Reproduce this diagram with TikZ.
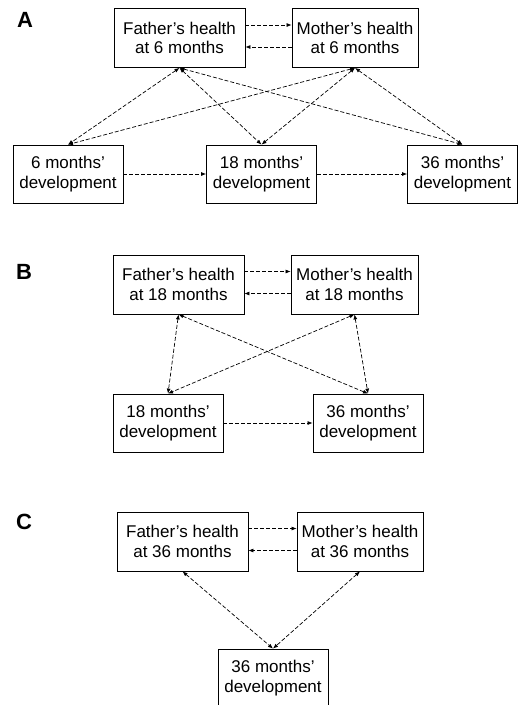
\documentclass[tikz,border=0pt]{standalone}
\usepackage{fontspec}
\setmainfont{Liberation Sans}
\usetikzlibrary{arrows.meta}

\tikzset{
	box/.style={draw, line width=0.8pt, align=center, inner sep=0pt,
		font=\fontsize{17}{19.5}\selectfont},
	parent/.style={box, minimum width=#1, minimum height=59pt},
	child/.style={box, minimum width=110pt, minimum height=58pt},
	link/.style={line width=0.7pt, dash pattern=on 4pt off 2pt,
		-{Latex[length=5pt,width=4pt]}},
	both/.style={link, {Latex[length=5pt,width=4pt]}-{Latex[length=5pt,width=4pt]}},
	panel/.style={font=\fontsize{22}{22}\bfseries\selectfont}
}

\begin{document}
\begin{tikzpicture}[x=1pt, y=-1pt]

	% ---- page

	\useasboundingbox (0,0) rectangle (521,705);

	\def\hi{13pt}
	\def\lo{9pt}

	% ---- panel A

	\node[panel] (lA) at (25,20) {A};

	\node[parent=131pt] (fa) at (179.5,38) {Father's health\\at 6 months};
	\node[parent=126pt] (ma) at (355,38) {Mother's health\\at 6 months};

	\node[child] (da6) at (68,174) {6 months'\\development};
	\node[child] (da18) at (261.5,174) {18 months'\\development};
	\node[child] (da36) at (462.5,174) {36 months'\\development};

	\draw[link] ([yshift=\hi]fa.east) -- ([yshift=\hi]ma.west);
	\draw[link] ([yshift=-\lo]ma.west) -- ([yshift=-\lo]fa.east);

	\foreach \p in {fa,ma} {
		\foreach \d in {da6,da18,da36} {
			\draw[both] (\p.south) -- (\d.north);
		}
	}

	\draw[link] (da6) -- (da18);
	\draw[link] (da18) -- (da36);

	% ---- panel B

	\node[panel] (lB) at (24,272) {B};

	\node[parent=131pt] (fb) at (178.5,284.5) {Father's health\\at 18 months};
	\node[parent=127pt] (mb) at (354.5,284.5) {Mother's health\\at 18 months};

	\node[child] (db18) at (168,423) {18 months'\\development};
	\node[child] (db36) at (368,423) {36 months'\\development};

	\draw[link] ([yshift=\hi]fb.east) -- ([yshift=\hi]mb.west);
	\draw[link] ([yshift=-\lo]mb.west) -- ([yshift=-\lo]fb.east);

	\foreach \p in {fb,mb} {
		\foreach \d in {db18,db36} {
			\draw[both] (\p.south) -- (\d.north);
		}
	}

	\draw[link] (db18) -- (db36);

	% ---- panel C

	\node[panel] (lC) at (24,522) {C};

	\node[parent=131pt] (fc) at (182.5,541.5) {Father's health\\at 36 months};
	\node[parent=126pt] (mc) at (360,541.5) {Mother's health\\at 36 months};

	\node[child] (dc36) at (273,678) {36 months'\\development};

	\draw[link] ([yshift=\hi]fc.east) -- ([yshift=\hi]mc.west);
	\draw[link] ([yshift=-\lo]mc.west) -- ([yshift=-\lo]fc.east);

	\draw[both] (fc.south) -- (dc36.north);
	\draw[both] (mc.south) -- (dc36.north);

\end{tikzpicture}
\end{document}
